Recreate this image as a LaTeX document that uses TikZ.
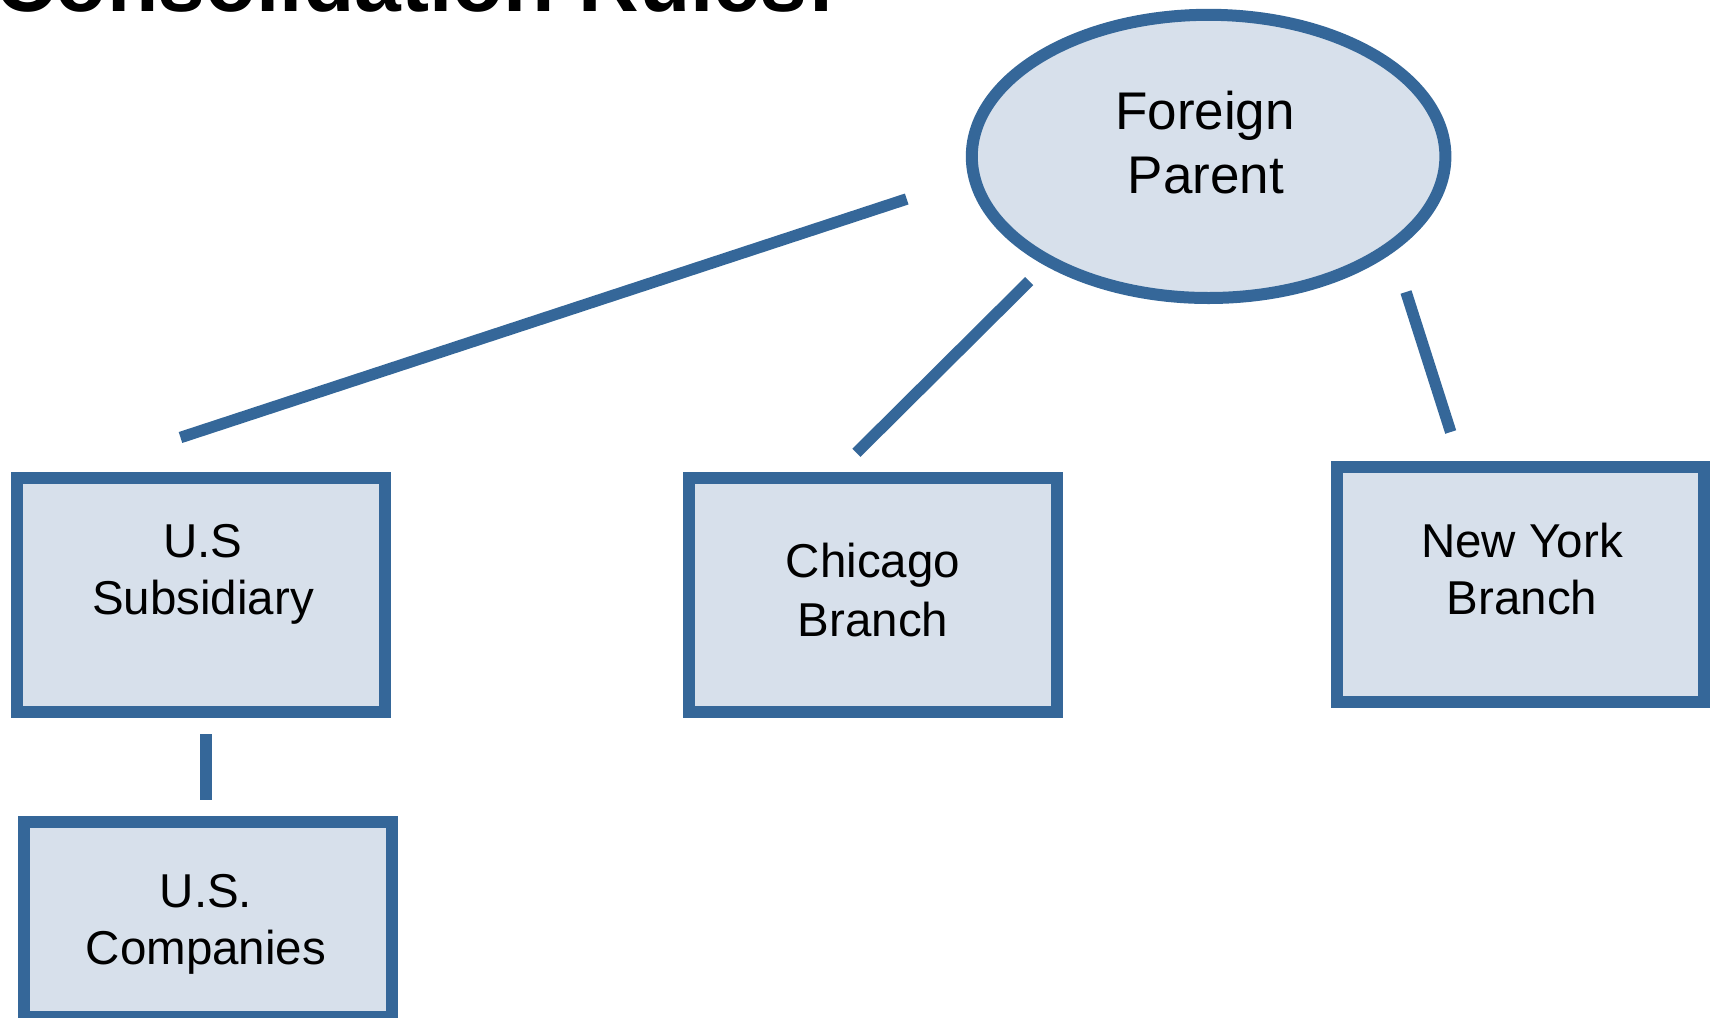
\documentclass[tikz,border=0pt]{standalone}
\usepackage{fontspec}
\setmainfont{Liberation Sans}
\usetikzlibrary{shapes.geometric}
\definecolor{edgec}{RGB}{53,103,153}
\definecolor{fillc}{RGB}{215,224,235}
\tikzset{
  boxst/.style={rectangle, draw=edgec, fill=fillc, line width=12pt, inner sep=0pt, outer sep=0pt},
  ovalst/.style={ellipse, draw=edgec, fill=fillc, line width=12pt, inner sep=0pt, outer sep=0pt},
  boxtxt/.style={anchor=base, inner sep=0pt, font=\fontsize{47.5}{57}\selectfont},
  ovaltxt/.style={anchor=base, inner sep=0pt, font=\fontsize{53}{64}\selectfont},
  conn/.style={draw=edgec, line width=11.5pt, line cap=butt}
}
\begin{document}
\begin{tikzpicture}[x=1pt, y=-1pt]
\useasboundingbox (0,0) rectangle (1715,1017);
\clip (0,0) rectangle (1715,1017);
% title (cut at the top)
\node[anchor=base west, inner sep=0pt, font=\bfseries\fontsize{84}{90}\selectfont] (title) at (-5,11) {Consolidation Rules:};
% shapes
\node[ovalst, minimum width=473.6pt, minimum height=283.2pt] (fp) at (1208.6,156.4) {};
\node[boxst, minimum width=368pt, minimum height=234pt] (sub) at (201,595) {};
\node[boxst, minimum width=368pt, minimum height=234pt] (chi) at (873,595) {};
\node[boxst, minimum width=367pt, minimum height=235pt] (ny) at (1520.5,584.5) {};
\node[boxst, minimum width=368pt, minimum height=195pt] (usc) at (208.4,919.5) {};
% texts
\node[ovaltxt] (fpA) at (1205,129.3) {Foreign};
\node[ovaltxt] (fpB) at (1206,193.3) {Parent};
\node[boxtxt] (subA) at (203,557) {U.S};
\node[boxtxt] (subB) at (203,614) {Subsidiary};
\node[boxtxt] (chiA) at (873,577) {Chicago};
\node[boxtxt] (chiB) at (873,636) {Branch};
\node[boxtxt] (nyA) at (1522,557) {New York};
\node[boxtxt] (nyB) at (1522,614) {Branch};
\node[boxtxt] (uscA) at (206,907) {U.S.};
\node[boxtxt] (uscB) at (206,964) {Companies};
% connector ends
\coordinate (c1a) at (180.5,437.5);
\coordinate (c1b) at (906.7,199);
\coordinate (c2a) at (856.4,452.8);
\coordinate (c2b) at (1029.2,281.1);
\coordinate (c3a) at (1450.7,432);
\coordinate (c3b) at (1406,292);
\coordinate (c4a) at (206,734);
\coordinate (c4b) at (206,800);
\draw[conn] (c1a) -- (c1b);
\draw[conn] (c2a) -- (c2b);
\draw[conn] (c3a) -- (c3b);
\draw[conn] (c4a) -- (c4b);
\end{tikzpicture}
\end{document}
